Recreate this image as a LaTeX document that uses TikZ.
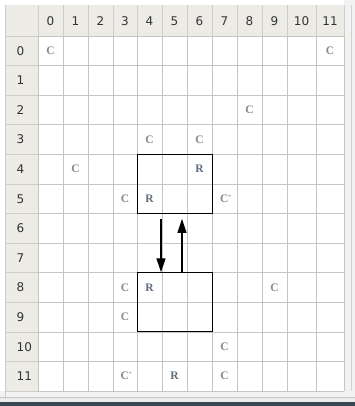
\documentclass[tikz,border=0pt]{standalone}
\usepackage{fontspec}
\setmainfont{Liberation Serif}
\newfontfamily\hdrfont{DejaVu Sans}
\usetikzlibrary{arrows.meta}
\definecolor{hdrbg}{HTML}{EDEBE6}
\definecolor{hdrline}{HTML}{D0CDC6}
\definecolor{gridc}{HTML}{C4C4C4}
\definecolor{ccol}{HTML}{8A8A8A}
\definecolor{rcol}{HTML}{5E6E7E}
\definecolor{hdrtext}{HTML}{333333}
\definecolor{darkband}{HTML}{3B4650}
\tikzset{
  hdr/.style={font=\hdrfont\fontsize{12}{14}\selectfont, text=hdrtext, inner sep=0pt},
  clab/.style={font=\bfseries\fontsize{11.5}{13}\selectfont, text=ccol, inner sep=0pt},
  rlab/.style={font=\bfseries\fontsize{11.5}{13}\selectfont, text=rcol, inner sep=0pt},
  regbox/.style={draw=black, line width=0.8pt, minimum width=75pt, minimum height=59.2pt, inner sep=0pt},
  flow/.style={line width=1.3pt, -{Triangle[length=14pt,width=9pt]}}
}
\begin{document}
\begin{tikzpicture}[x=1pt,y=-1pt]
\useasboundingbox (0,0) rectangle (355,406);
\fill[white] (0,0) rectangle (355,406);
% right and bottom frame
\fill[black!5] (344,0) rectangle (355,397);
\draw[black!18] (351,5) -- (351,397);
\fill[black!5] (0,391) rectangle (355,397);
\draw[black!22] (0,397.5) -- (355,397.5);
\fill[black!8] (0,398) rectangle (355,402);
\fill[darkband] (0,402) rectangle (355,406);
% header backgrounds
\fill[hdrbg] (5,5) rectangle (344,36);
\fill[hdrbg] (5,36) rectangle (38,391);
\draw[black!20] (5,5) -- (5,397);
% grid lines
\foreach \x in {38,63,88,113,137,162,187,212,237,262,287,316,344} {
  \draw[gridc, line width=0.6pt] (\x,36) -- (\x,391);
  \draw[hdrline, line width=0.6pt] (\x,5) -- (\x,36);
}
\foreach \i in {0,...,12} {
  \pgfmathsetmacro\yy{36+29.583*\i}
  \draw[gridc, line width=0.6pt] (38,\yy) -- (344,\yy);
  \draw[hdrline, line width=0.6pt] (5,\yy) -- (38,\yy);
}
% column headers
\foreach \c/\x in {0/50.5,1/75.5,2/100.5,3/125,4/149.5,5/174.5,6/199.5,7/224.5,8/249.5,9/274.5,10/301.5,11/330} {
  \node[hdr] (ch\c) at (\x,21) {\c};
}
% row headers
\foreach \r in {0,...,11} {
  \pgfmathsetmacro\yy{36+29.583*\r+14.8}
  \node[hdr, anchor=west] (rh\r) at (16.5,\yy) {\r};
}
% cell labels
\node[clab] (c00) at (50.5,50.8) {C};
\node[clab] (c011) at (330,50.8) {C};
\node[clab] (c28) at (249.5,110) {C};
\node[clab] (c34) at (149.5,139.5) {C};
\node[clab] (c36) at (199.5,139.5) {C};
\node[clab] (c41) at (75.5,169.1) {C};
\node[rlab] (r46) at (199.5,169.1) {R};
\node[clab] (c53) at (125,198.7) {C};
\node[rlab] (r54) at (149.5,198.7) {R};
\node[clab, anchor=west] (c57) at (220,198.7) {C\textsuperscript{\tiny *}};
\node[clab] (c83) at (125,287.5) {C};
\node[rlab] (r84) at (149.5,287.5) {R};
\node[clab] (c89) at (274.5,287.5) {C};
\node[clab] (c93) at (125,317) {C};
\node[clab] (c107) at (224.5,346.6) {C};
\node[clab, anchor=west] (c113) at (120.5,376.2) {C\textsuperscript{\tiny *}};
\node[rlab] (r115) at (174.5,376.2) {R};
\node[clab] (c117) at (224.5,376.2) {C};
% boxes
\node[regbox] (boxA) at (174.5,183.9) {};
\node[regbox] (boxB) at (174.5,302.25) {};
% arrows
\draw[flow] ([xshift=-13.5pt,yshift=-5pt]boxA.south) -- ([xshift=-13.5pt]boxB.north);
\draw[flow] ([xshift=7.5pt]boxB.north) -- ([xshift=7.5pt,yshift=-5pt]boxA.south);
\end{tikzpicture}
\end{document}
